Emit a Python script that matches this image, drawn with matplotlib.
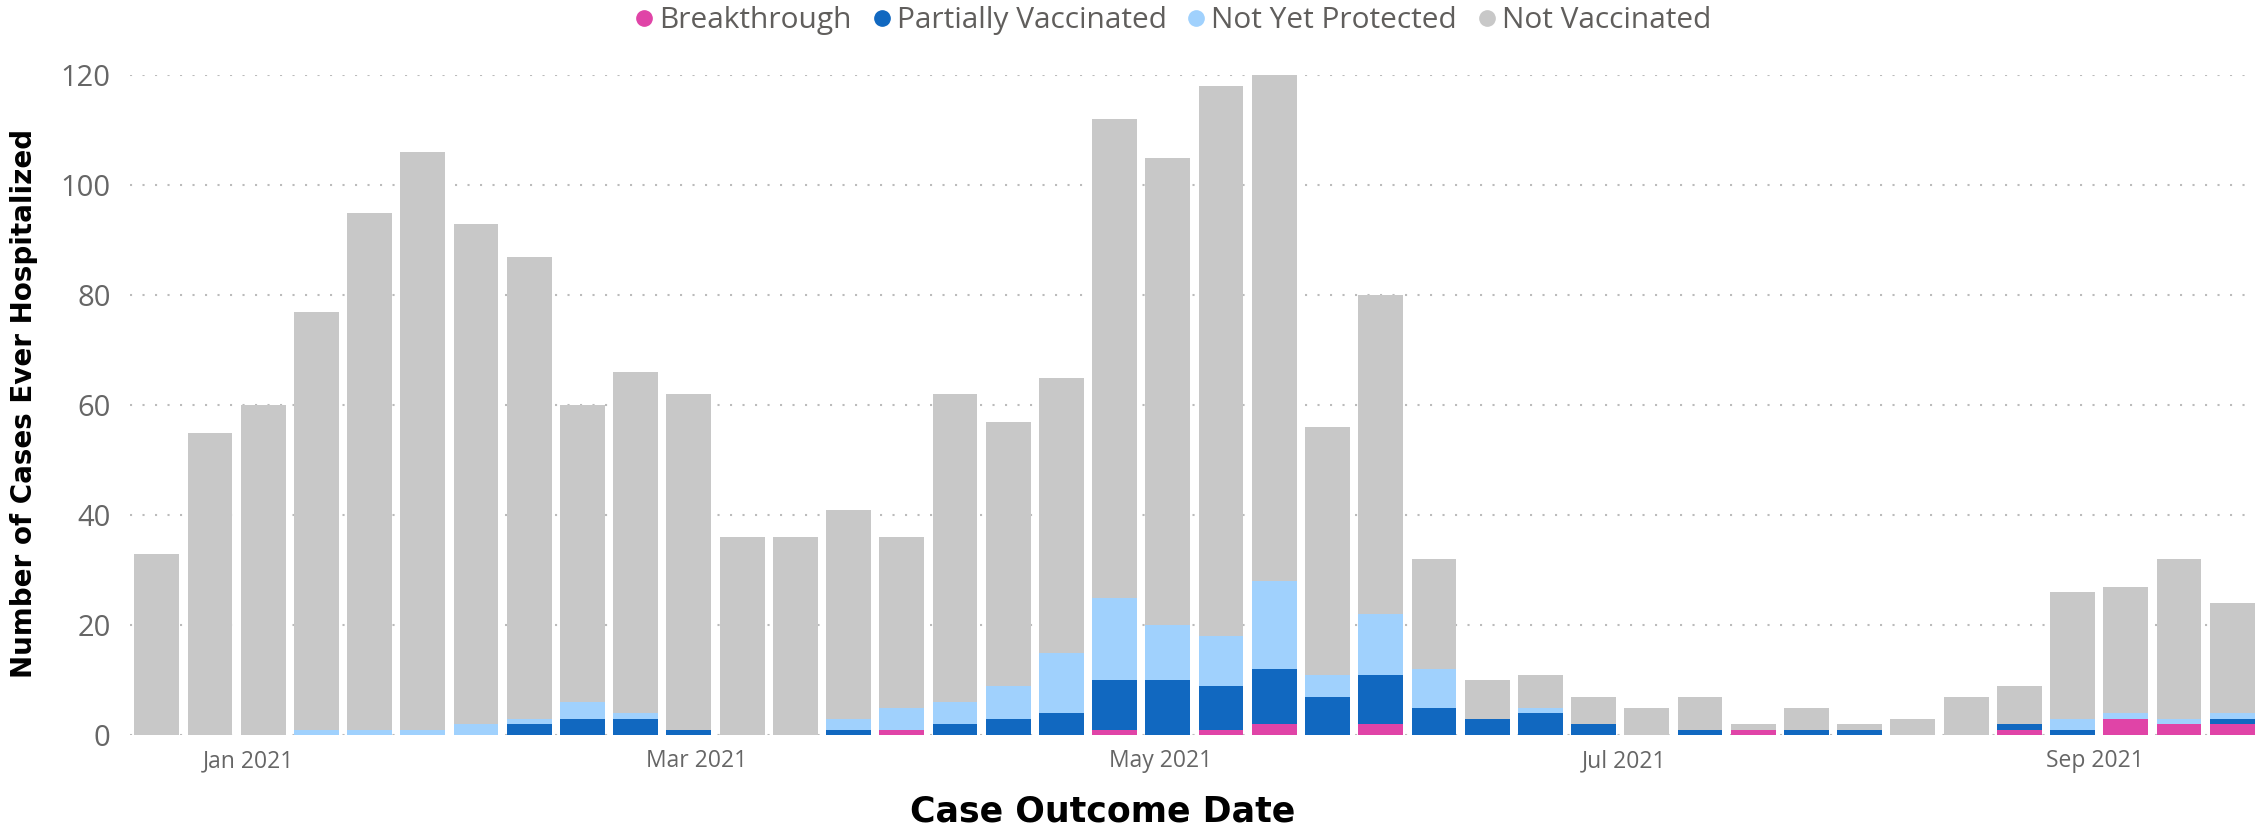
import pandas as pd
import matplotlib
matplotlib.use("Agg")
from matplotlib import pyplot as plt
from matplotlib.lines import Line2D
import matplotlib.dates as mdates

# weekly bars, week starting 2020-12-20
weeks = pd.date_range("2020-12-20", periods=40, freq="7D")

breakthrough = [0,0,0,0,0,0,0,0,0,0, 0,0,0,0,1,0,0,0,1,0,
                1,2,0,2,0,0,0,0,0,0, 1,0,0,0,0,1,0,3,2,2]
partially_vax = [0,0,0,0,0,0,0,2,3,3, 1,0,0,1,0,2,3,4,9,10,
                 8,10,7,9,5,3,4,2,0,1, 0,1,1,0,0,1,1,0,0,1]
not_yet_protected = [0,0,0,1,1,1,2,1,3,1, 0,0,0,2,4,4,6,11,15,10,
                     9,16,4,11,7,0,1,0,0,0, 0,0,0,0,0,0,2,1,1,1]
not_vax = [33,55,60,76,94,105,91,84,54,62, 61,36,36,38,31,56,48,50,87,85,
           100,92,45,58,20,7,6,5,5,6, 1,4,1,3,7,7,23,23,29,20]

series = [("Breakthrough", breakthrough, "#E044A7"),
          ("Partially Vaccinated", partially_vax, "#1168C0"),
          ("Not Yet Protected", not_yet_protected, "#A0D1FD"),
          ("Not Vaccinated", not_vax, "#C8C8C8")]

tick_color = "#666666"

fig = plt.figure(figsize=(22.55, 8.31), dpi=100)
ax = fig.add_axes([0.0577, 0.1155, 0.9423, 0.7942])

bottom = [0] * len(weeks)
for name, vals, col in series:
    ax.bar(weeks, vals, bottom=bottom, width=5.9, color=col, zorder=2)
    bottom = [b + v for b, v in zip(bottom, vals)]

ax.set_ylim(0, 120)
ax.set_yticks(range(0, 121, 20))
ax.set_xlim(pd.Timestamp("2020-12-16 12:00"), pd.Timestamp("2021-09-22"))
ax.xaxis.set_major_locator(mdates.MonthLocator(bymonth=[1, 3, 5, 7, 9]))
ax.xaxis.set_major_formatter(mdates.DateFormatter("%b %Y"))

ax.grid(axis="y", linestyle=(0, (1, 5)), color="#BBBBBB", linewidth=1.5, zorder=0)
for s in ax.spines.values():
    s.set_visible(False)
ax.tick_params(axis="both", length=0, colors=tick_color)
ax.tick_params(axis="y", labelsize=21, pad=14)
ax.tick_params(axis="x", labelsize=16.5, pad=10)
for lab in ax.get_yticklabels() + ax.get_xticklabels():
    lab.set_fontfamily("Open Sans")

fig.text(0.0105, 0.515, "Number of Cases Ever Hospitalized", rotation=90,
         ha="center", va="center", fontsize=20, fontweight="bold",
         family="DejaVu Sans", color="black")
fig.text(0.489, 0.024, "Case Outcome Date", ha="center", va="center",
         fontsize=25, fontweight="bold", family="DejaVu Sans", color="black")

handles = [Line2D([], [], marker="o", linestyle="", markersize=11, color=c)
           for _, _, c in series]
fig.legend(handles, [n for n, _, _ in series], loc="upper center",
           bbox_to_anchor=(0.517, 1.025), ncol=4, frameon=False,
           handletextpad=-0.3, columnspacing=0.2, handlelength=1.6,
           prop={"family": "Open Sans", "size": 21.5}, labelcolor="#605E5C")

fig.savefig("out.png", dpi=100)
